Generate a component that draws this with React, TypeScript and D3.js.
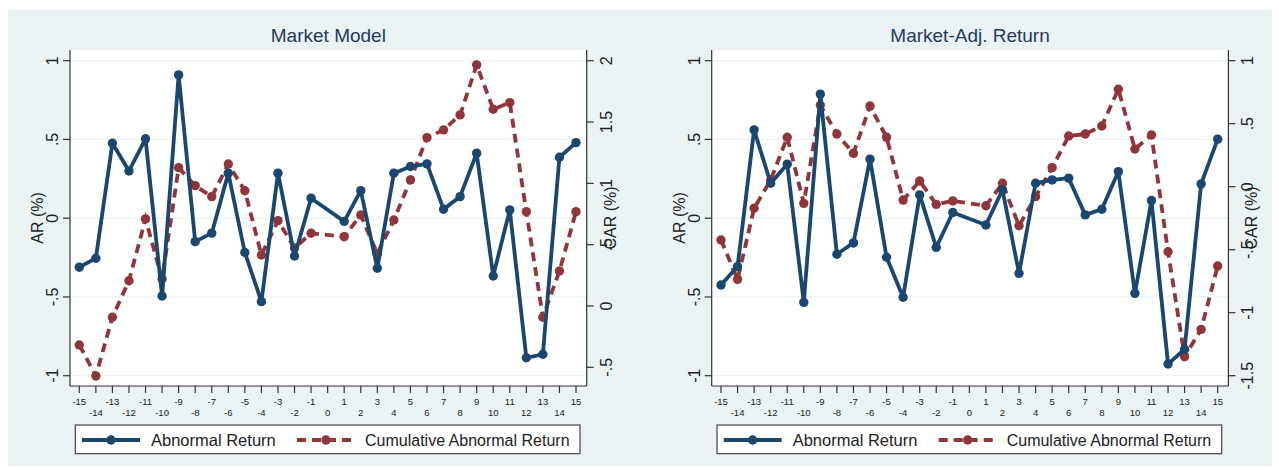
import * as d3 from "d3";

// event window (day 0 has no observation)
const days = [-15, -14, -13, -12, -11, -10, -9, -8, -7, -6, -5, -4, -3, -2, -1, 0, 1, 2, 3, 4, 5, 6, 7, 8, 9, 10, 11, 12, 13, 14, 15];

// Market Model
const mmAR = [-0.311, -0.254, 0.476, 0.3, 0.504, -0.494, 0.91, -0.149, -0.095, 0.286, -0.218, -0.53, 0.286, -0.24, 0.127, null,
  -0.02, 0.175, -0.318, 0.286, 0.328, 0.345, 0.057, 0.137, 0.413, -0.367, 0.053, -0.886, -0.864, 0.387, 0.48];
const mmCAR = [-0.318, -0.571, -0.092, 0.206, 0.71, 0.22, 1.128, 0.981, 0.892, 1.158, 0.94, 0.416, 0.696, 0.473, 0.593, null,
  0.565, 0.742, 0.427, 0.701, 1.028, 1.373, 1.436, 1.558, 1.966, 1.604, 1.658, 0.769, -0.092, 0.285, 0.769];

// Market-adjusted return
const maAR = [-0.424, -0.307, 0.561, 0.222, 0.343, -0.534, 0.788, -0.229, -0.157, 0.375, -0.248, -0.502, 0.148, -0.185, 0.036, null,
  -0.043, 0.18, -0.35, 0.222, 0.243, 0.254, 0.021, 0.057, 0.296, -0.477, 0.112, -0.926, -0.832, 0.218, 0.502];
const maCAR = [-0.423, -0.735, -0.171, 0.053, 0.392, -0.132, 0.648, 0.418, 0.265, 0.64, 0.392, -0.106, 0.045, -0.14, -0.113, null,
  -0.151, 0.027, -0.31, -0.079, 0.151, 0.402, 0.418, 0.482, 0.773, 0.299, 0.41, -0.516, -1.349, -1.132, -0.629];

const arTicks = [-1, -0.5, 0, 0.5, 1];
const arLabels = ["-1", "-.5", "0", ".5", "1"];
const mmCarTicks = [-0.5, 0, 0.5, 1, 1.5, 2];
const mmCarLabels = ["-.5", "0", ".5", "1", "1.5", "2"];
const maCarTicks = [-1.5, -1, -0.5, 0, 0.5, 1];
const maCarLabels = ["-1.5", "-1", "-.5", "0", ".5", "1"];

const FONT = "'Liberation Sans', Arial, sans-serif";
const NAVY = "#1a476f";
const MAROON = "#90353b";
const BG = "#eaf2f3";
const AXIS = "#333";

type PanelProps = {
  left: number;
  title: string;
  ar: (number | null)[];
  car: (number | null)[];
  carTicks: number[];
  carLabels: string[];
  carDomain: [number, number];
  carRange: [number, number];
};

function Panel({ left, title, ar, car, carTicks, carLabels, carDomain, carRange }: PanelProps) {
  const plotL = left;
  const plotR = left + 516.7;
  const top = 50;
  const bottom = 386;

  const x = d3.scaleLinear().domain([-15, 15]).range([plotL + 9.3, plotR - 10.7]);
  const yAR = d3.scaleLinear().domain([-1, 1]).range([375.7, 60.7]);
  const yCAR = d3.scaleLinear().domain(carDomain).range(carRange);

  const arPts = days.map((d, i) => [d, ar[i]]).filter((p) => p[1] != null) as [number, number][];
  const carPts = days.map((d, i) => [d, car[i]]).filter((p) => p[1] != null) as [number, number][];

  const arLine = d3.line<[number, number]>().x((p) => x(p[0])).y((p) => yAR(p[1]));
  const carLine = d3.line<[number, number]>().x((p) => x(p[0])).y((p) => yCAR(p[1]));

  const legY = 440;
  const legL = plotL + 5.3;
  const legR = plotL + 510;

  return (
    <g fontFamily={FONT}>
      <rect x={plotL} y={top} width={plotR - plotL} height={bottom - top} fill="#fff" />
      {arTicks.map((t) => (
        <line key={"g" + t} x1={plotL} x2={plotR} y1={yAR(t)} y2={yAR(t)} stroke={BG} strokeWidth={1.2} />
      ))}

      <text x={(plotL + plotR) / 2} y={42} textAnchor="middle" fontSize={19} fill="#243a5e">
        {title}
      </text>

      {/* left axis */}
      <line x1={plotL} x2={plotL} y1={top} y2={bottom} stroke={AXIS} strokeWidth={1.2} />
      {arTicks.map((t, i) => (
        <g key={"a" + t}>
          <line x1={plotL - 7} x2={plotL} y1={yAR(t)} y2={yAR(t)} stroke={AXIS} strokeWidth={1.2} />
          <text transform={`translate(${plotL - 12},${yAR(t)}) rotate(-90)`} textAnchor="middle" fontSize={16} fill="#222">
            {arLabels[i]}
          </text>
        </g>
      ))}
      <text transform={`translate(${plotL - 27},${(top + bottom) / 2}) rotate(-90)`} textAnchor="middle" fontSize={16} fill="#222">
        AR (%)
      </text>

      {/* right axis */}
      <line x1={plotR} x2={plotR} y1={top} y2={bottom} stroke={AXIS} strokeWidth={1.2} />
      {carTicks.map((t, i) => (
        <g key={"c" + t}>
          <line x1={plotR} x2={plotR + 7} y1={yCAR(t)} y2={yCAR(t)} stroke={AXIS} strokeWidth={1.2} />
          <text transform={`translate(${plotR + 25},${yCAR(t)}) rotate(-90)`} textAnchor="middle" fontSize={16} fill="#222">
            {carLabels[i]}
          </text>
        </g>
      ))}
      <text transform={`translate(${plotR + 29},${(top + bottom) / 2}) rotate(-90)`} textAnchor="middle" fontSize={16} fill="#222">
        CAR (%)
      </text>

      {/* bottom axis */}
      <line x1={plotL} x2={plotR} y1={bottom} y2={bottom} stroke={AXIS} strokeWidth={1.2} />
      {days.map((d) => (
        <g key={"x" + d}>
          <line x1={x(d)} x2={x(d)} y1={bottom} y2={bottom + 7} stroke={AXIS} strokeWidth={1.2} />
          <text x={x(d)} y={Math.abs(d) % 2 === 1 ? 405 : 415.5} textAnchor="middle" fontSize={9.5} fill="#222">
            {d}
          </text>
        </g>
      ))}

      {/* series */}
      <path d={carLine(carPts) ?? ""} fill="none" stroke={MAROON} strokeWidth={3.8} strokeDasharray="9,6" />
      {carPts.map((p) => (
        <circle key={"cp" + p[0]} cx={x(p[0])} cy={yCAR(p[1])} r={4.7} fill={MAROON} />
      ))}
      <path d={arLine(arPts) ?? ""} fill="none" stroke={NAVY} strokeWidth={3.8} strokeLinejoin="round" />
      {arPts.map((p) => (
        <circle key={"ap" + p[0]} cx={x(p[0])} cy={yAR(p[1])} r={4.7} fill={NAVY} />
      ))}

      {/* legend */}
      <rect x={legL} y={425} width={legR - legL} height={28.7} fill="#fff" stroke="#444" strokeWidth={1.2} />
      <line x1={plotL + 12} x2={plotL + 70} y1={legY} y2={legY} stroke={NAVY} strokeWidth={3.8} />
      <circle cx={plotL + 41} cy={legY} r={4.7} fill={NAVY} />
      <text x={plotL + 81} y={legY + 5.8} fontSize={16.5} fill="#222">
        Abnormal Return
      </text>
      <line x1={plotL + 227} x2={plotL + 285} y1={legY} y2={legY} stroke={MAROON} strokeWidth={3.8} strokeDasharray="9,6" />
      <circle cx={plotL + 256} cy={legY} r={4.7} fill={MAROON} />
      <text x={plotL + 295} y={legY + 5.8} fontSize={16} fill="#222">
        Cumulative Abnormal Return
      </text>
    </g>
  );
}

export default function App() {
  return (
    <svg width={1279} height={470} style={{ position: "absolute", left: 0, top: 0, display: "block" }}>
      <rect x={0} y={0} width={1279} height={470} fill="#fff" />
      <rect x={8} y={10} width={1264} height={456} fill={BG} />
      <Panel
        left={70}
        title="Market Model"
        ar={mmAR}
        car={mmCAR}
        carTicks={mmCarTicks}
        carLabels={mmCarLabels}
        carDomain={[-0.5, 2]}
        carRange={[367.3, 60.7]}
      />
      <Panel
        left={711.7}
        title="Market-Adj. Return"
        ar={maAR}
        car={maCAR}
        carTicks={maCarTicks}
        carLabels={maCarLabels}
        carDomain={[-1.5, 1]}
        carRange={[375.7, 60.7]}
      />
    </svg>
  );
}
